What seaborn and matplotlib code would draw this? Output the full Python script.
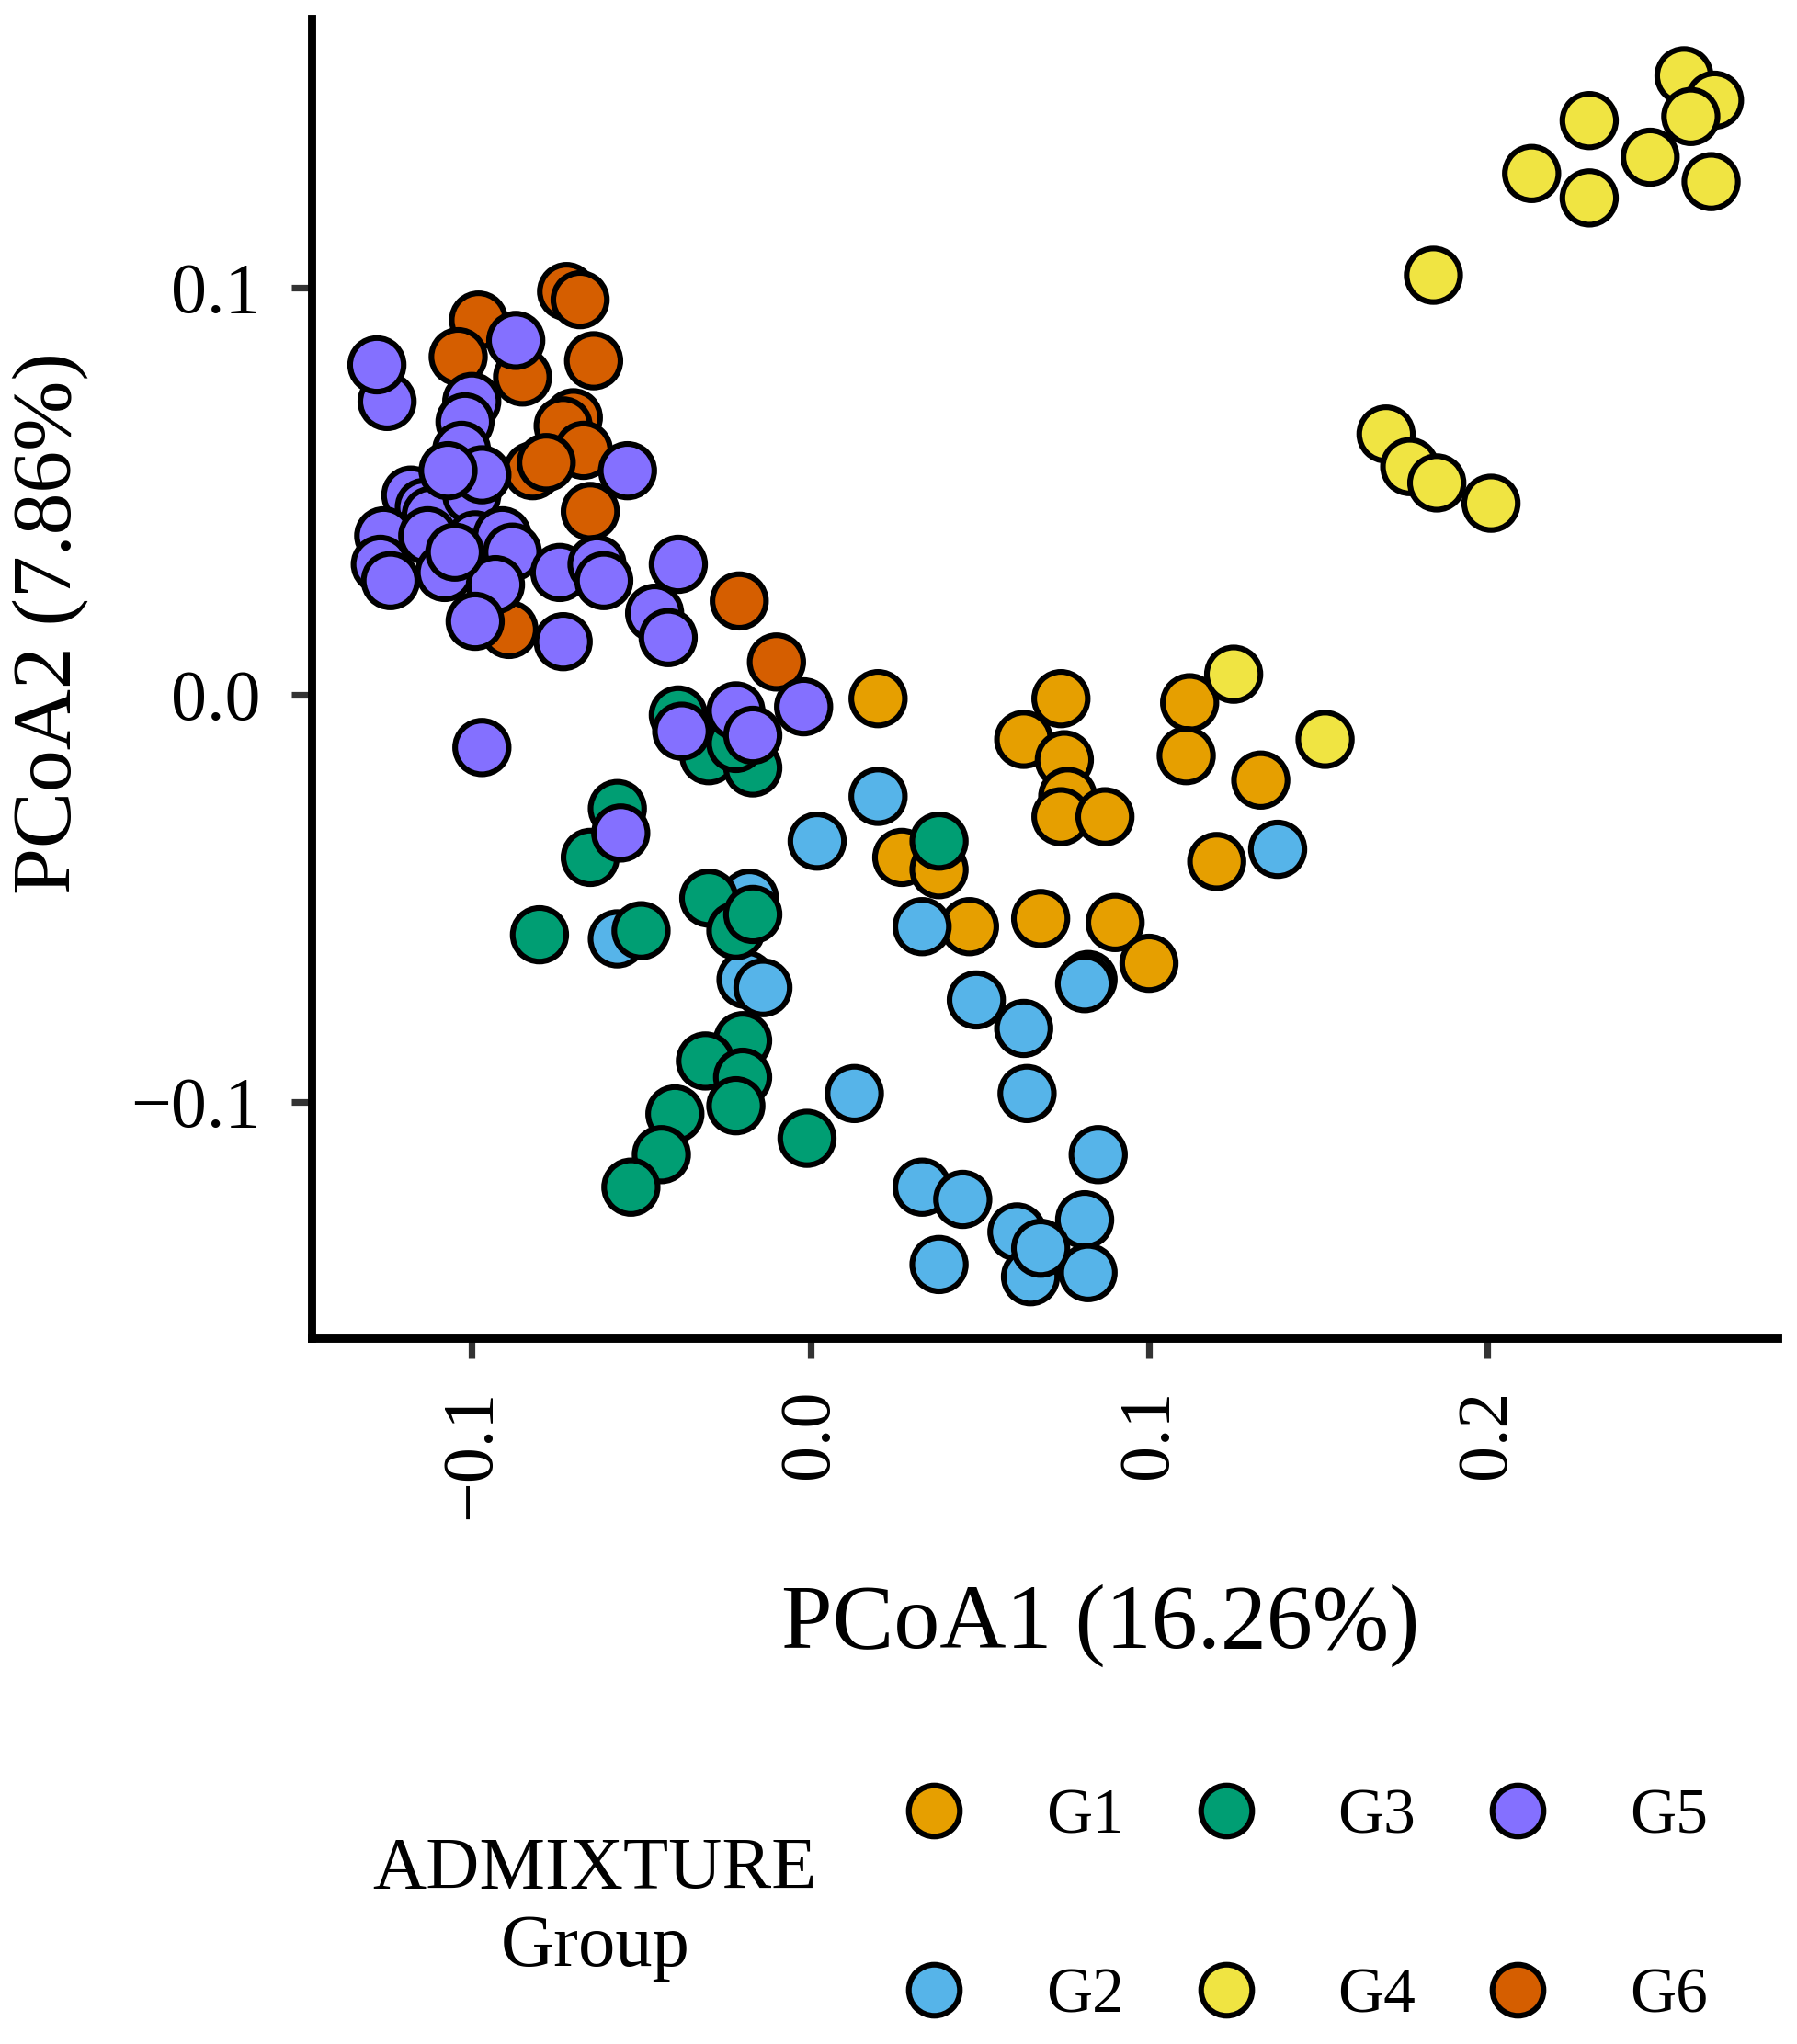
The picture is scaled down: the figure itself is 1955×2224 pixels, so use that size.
import pandas as pd
import matplotlib.pyplot as plt
import seaborn as sns
from matplotlib.lines import Line2D
from matplotlib.ticker import FuncFormatter

# PCoA coordinates, one pair of lists per ADMIXTURE group
g1_x = [0.020, 0.074, 0.063, 0.075, 0.076, 0.074, 0.087, 0.112, 0.111, 0.133,
        0.120, 0.027, 0.038, 0.047, 0.068, 0.090, 0.100, -0.025]
g1_y = [-0.001, -0.001, -0.011, -0.016, -0.025, -0.030, -0.030, -0.002, -0.015, -0.021,
        -0.041, -0.040, -0.043, -0.057, -0.055, -0.056, -0.066, -0.013]

g2_x = [0.002, 0.020, 0.033, 0.138, -0.057, -0.018, -0.019, -0.014, 0.049, 0.063,
        0.082, 0.081, 0.064, 0.013, 0.085, 0.033, 0.045, 0.081, 0.061, 0.038,
        0.065, 0.082, 0.068]
g2_y = [-0.036, -0.025, -0.057, -0.038, -0.060, -0.050, -0.070, -0.072, -0.075, -0.082,
        -0.070, -0.071, -0.098, -0.098, -0.113, -0.121, -0.124, -0.129, -0.132, -0.140,
        -0.143, -0.142, -0.136]

g3_x = [-0.039, -0.030, -0.017, -0.022, -0.057, -0.065, -0.080, -0.050, -0.030, -0.022,
        -0.017, 0.038, -0.020, -0.031, -0.020, -0.022, -0.040, -0.044, -0.053, -0.001]
g3_y = [-0.005, -0.015, -0.018, -0.012, -0.028, -0.040, -0.059, -0.058, -0.050, -0.058,
        -0.054, -0.036, -0.085, -0.090, -0.094, -0.101, -0.103, -0.113, -0.121, -0.109]

g4_x = [0.258, 0.267, 0.260, 0.230, 0.248, 0.213, 0.230, 0.266, 0.184, 0.170,
        0.177, 0.185, 0.201, 0.125, 0.152]
g4_y = [0.152, 0.146, 0.142, 0.141, 0.132, 0.128, 0.122, 0.126, 0.103, 0.064,
        0.056, 0.052, 0.047, 0.005, -0.011]

g5_x = [-0.125, -0.128, -0.087, -0.100, -0.102, -0.103, -0.054, -0.118, -0.114, -0.112,
        -0.100, -0.097, -0.126, -0.127, -0.124, -0.113, -0.108, -0.099, -0.091, -0.088,
        -0.093, -0.099, -0.074, -0.063, -0.061, -0.039, -0.046, -0.042, -0.073, -0.097,
        -0.022, -0.002, -0.038, -0.017, -0.056, -0.107, -0.105]
g5_y = [0.072, 0.081, 0.087, 0.072, 0.067, 0.060, 0.055, 0.049, 0.046, 0.044,
        0.049, 0.054, 0.039, 0.032, 0.028, 0.039, 0.030, 0.038, 0.039, 0.035,
        0.027, 0.018, 0.030, 0.032, 0.028, 0.032, 0.020, 0.014, 0.013, -0.013,
        -0.004, -0.003, -0.009, -0.010, -0.034, 0.055, 0.035]

g6_x = [-0.072, -0.068, -0.098, -0.104, -0.085, -0.064, -0.070, -0.073, -0.067, -0.082,
        -0.065, -0.021, -0.010, -0.089, -0.078]
g6_y = [0.099, 0.097, 0.092, 0.083, 0.078, 0.082, 0.068, 0.066, 0.060, 0.055,
        0.045, 0.023, 0.008, 0.016, 0.057]

groups = ['G1', 'G2', 'G3', 'G4', 'G5', 'G6']
palette = {'G1': '#E69F00', 'G2': '#56B4E9', 'G3': '#009E73',
           'G4': '#F0E442', 'G5': '#8470FF', 'G6': '#D55E00'}

coords = {'G1': (g1_x, g1_y), 'G2': (g2_x, g2_y), 'G3': (g3_x, g3_y),
          'G4': (g4_x, g4_y), 'G5': (g5_x, g5_y), 'G6': (g6_x, g6_y)}

# drawing order roughly as in the original (later groups sit on top)
draw_order = ['G1', 'G2', 'G3', 'G6', 'G5', 'G4']
df = pd.concat([pd.DataFrame({'PCoA1': coords[g][0], 'PCoA2': coords[g][1], 'Group': g})
                for g in draw_order], ignore_index=True)

sns.set_style('ticks')
plt.rcParams['font.family'] = ['Liberation Serif', 'DejaVu Serif']
plt.rcParams['text.color'] = 'black'
plt.rcParams['axes.labelcolor'] = 'black'

fig = plt.figure(figsize=(9.78, 11.12), dpi=200)
ax = fig.add_axes([0.1733, 0.3453, 0.989 - 0.1733, 0.991 - 0.3453])

sns.scatterplot(data=df, x='PCoA1', y='PCoA2', hue='Group', palette=palette,
                s=440, edgecolor='black', linewidth=2.2, legend=False, ax=ax)

ax.set_xlim(-0.1473, 0.2858)
ax.set_ylim(-0.1581, 0.1661)
ax.set_xticks([-0.1, 0.0, 0.1, 0.2])
ax.set_yticks([-0.1, 0.0, 0.1])
fmt = FuncFormatter(lambda v, p: f"{v:.1f}".replace('-', '\u2212'))
ax.xaxis.set_major_formatter(fmt)
ax.yaxis.set_major_formatter(fmt)

sns.despine(ax=ax)
for side in ['left', 'bottom']:
    ax.spines[side].set_linewidth(3.2)
    ax.spines[side].set_color('black')
ax.tick_params(axis='both', length=8, width=2.6, color='#333333',
               labelsize=28, labelcolor='black', pad=12)
ax.tick_params(axis='x', labelrotation=90)

ax.set_xlabel('PCoA1 (16.26%)', fontsize=36)
ax.set_ylabel('PCoA2 (7.86%)', fontsize=33)
ax.xaxis.set_label_coords(0.538, -0.186)
ax.yaxis.set_label_coords(-0.152, 0.542)

handles = [Line2D([], [], marker='o', linestyle='none', markersize=20,
                  markerfacecolor=palette[g], markeredgecolor='black',
                  markeredgewidth=2.2, label=g) for g in groups]
fig.legend(handles=handles, loc='center', bbox_to_anchor=(0.717, 0.067),
           ncol=3, frameon=False, fontsize=25, handletextpad=0.75,
           columnspacing=0.6, labelspacing=1.9)
fig.text(0.331, 0.066, 'ADMIXTURE\nGroup', ha='center', va='center',
         fontsize=29, linespacing=1.2)

fig.savefig('out.png', dpi=200)
